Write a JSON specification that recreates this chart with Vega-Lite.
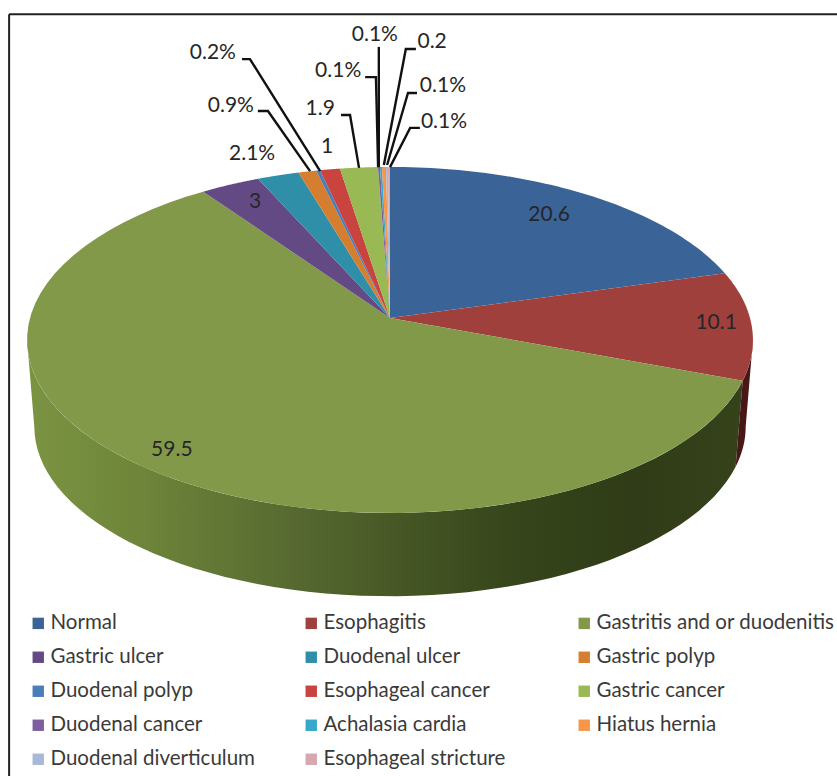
{
  "$schema": "https://vega.github.io/schema/vega-lite/v6.json",
  "width": 837,
  "height": 776,
  "autosize": "none",
  "padding": 0,
  "background": "white",
  "config": {"view": {"stroke": null}, "font": "Lato"},
  "datasets": {
    "slices": [
      {"seq": 1, "name": "Normal", "value": 20.6},
      {"seq": 2, "name": "Esophagitis", "value": 10.1},
      {"seq": 3, "name": "Gastritis and or duodenitis", "value": 59.5},
      {"seq": 4, "name": "Gastric ulcer", "value": 3},
      {"seq": 5, "name": "Duodenal ulcer", "value": 2.1},
      {"seq": 6, "name": "Gastric polyp", "value": 0.9},
      {"seq": 7, "name": "Duodenal polyp", "value": 0.2},
      {"seq": 8, "name": "Esophageal cancer", "value": 1},
      {"seq": 9, "name": "Gastric cancer", "value": 1.9},
      {"seq": 10, "name": "Duodenal cancer", "value": 0.1},
      {"seq": 11, "name": "Achalasia cardia", "value": 0.1},
      {"seq": 12, "name": "Hiatus hernia", "value": 0.2},
      {"seq": 13, "name": "Duodenal diverticulum", "value": 0.1},
      {"seq": 14, "name": "Esophageal stricture", "value": 0.1}
    ],
    "callouts": [
      {"text": "20.6", "x": 44.2, "y": 28.6},
      {"text": "10.1", "x": 90.6, "y": -1.4},
      {"text": "59.5", "x": -60.6, "y": -36.7},
      {"text": "3", "x": -37.5, "y": 32.2},
      {"text": "2.1%", "x": -38.3, "y": 45.6},
      {"text": "1", "x": -17.5, "y": 47.5},
      {"text": "1.9", "x": -19.4, "y": 58.1},
      {"text": "0.9%", "x": -44.2, "y": 58.9},
      {"text": "0.2%", "x": -49.2, "y": 73.6},
      {"text": "0.1%", "x": -14.4, "y": 68.6},
      {"text": "0.1%", "x": -4.2, "y": 78.6},
      {"text": "0.2", "x": 11.7, "y": 76.7},
      {"text": "0.1%", "x": 14.7, "y": 64.4},
      {"text": "0.1%", "x": 15, "y": 54.4}
    ],
    "leaders": [
      {"id": "a", "n": 1, "x": -41.1, "y": 71.9}, {"id": "a", "n": 2, "x": -38.9, "y": 71.9}, {"id": "a", "n": 3, "x": -19.4, "y": 40.8},
      {"id": "b", "n": 1, "x": -36.7, "y": 57.5}, {"id": "b", "n": 2, "x": -33.9, "y": 57.5}, {"id": "b", "n": 3, "x": -22.2, "y": 40.8},
      {"id": "c", "n": 1, "x": -13.6, "y": 56.4}, {"id": "c", "n": 2, "x": -11.1, "y": 56.4}, {"id": "c", "n": 3, "x": -8.6, "y": 41.7},
      {"id": "d", "n": 1, "x": -6.9, "y": 66.9}, {"id": "d", "n": 2, "x": -3.9, "y": 66.9}, {"id": "d", "n": 3, "x": -3.3, "y": 41.9},
      {"id": "e", "n": 1, "x": -3.1, "y": 75.3}, {"id": "e", "n": 2, "x": -3.1, "y": 41.9},
      {"id": "f", "n": 1, "x": 7.2, "y": 74.7}, {"id": "f", "n": 2, "x": 4.4, "y": 74.7}, {"id": "f", "n": 3, "x": -1.7, "y": 42.5},
      {"id": "g", "n": 1, "x": 7.5, "y": 62.5}, {"id": "g", "n": 2, "x": 5, "y": 62.5}, {"id": "g", "n": 3, "x": -0.8, "y": 42.5},
      {"id": "h", "n": 1, "x": 8.3, "y": 52.8}, {"id": "h", "n": 2, "x": 5.6, "y": 52.8}, {"id": "h", "n": 3, "x": 0, "y": 41.9}
    ],
    "frame": [
      {"x": -105.8, "y": 84.4, "x2": -105.8, "y2": -127.2},
      {"x": -105.8, "y": 84.4, "x2": 124.2, "y2": 84.4}
    ]
  },
  "layer": [
    {
      "data": {"name": "frame"},
      "mark": {"type": "rule", "color": "#222222", "strokeWidth": 2},
      "encoding": {
        "x": {"field": "x", "type": "quantitative", "scale": {"domain": [-108.33, 124.17], "nice": false, "zero": false}, "axis": null},
        "y": {"field": "y", "type": "quantitative", "scale": {"domain": [-127.22, 88.33], "nice": false, "zero": false}, "axis": null},
        "x2": {"field": "x2"},
        "y2": {"field": "y2"}
      }
    },
    {
      "data": {"name": "slices"},
      "transform": [
        {"window": [{"op": "sum", "field": "value", "as": "cum"}], "sort": [{"field": "seq", "order": "ascending"}]},
        {"joinaggregate": [{"op": "sum", "field": "value", "as": "total"}]},
        {"calculate": "max(360 * (datum.cum - datum.value) / datum.total, 97.3)", "as": "from"},
        {"calculate": "min(360 * datum.cum / datum.total, 262.7)", "as": "to"},
        {"filter": "datum.to > datum.from && datum.name === 'Gastritis and or duodenitis'"},
        {"calculate": "sequence(0, 122)", "as": "i"},
        {"flatten": ["i"]},
        {"calculate": "(datum.i <= 60 ? datum.i : 121 - datum.i) / 60", "as": "t"},
        {"calculate": "(datum.from + datum.t * (datum.to - datum.from)) * PI / 180", "as": "a"},
        {"calculate": "100 * sin(datum.a) / (1 + 0.127 * cos(datum.a))", "as": "fx"},
        {"calculate": "47.28 * cos(datum.a) / (1 + 0.127 * cos(datum.a))", "as": "fy"},
        {"calculate": "datum.i <= 60 ? datum.fx : 0.98 * datum.fx", "as": "px"},
        {"calculate": "datum.i <= 60 ? datum.fy : 0.98 * datum.fy - 24.2", "as": "py"}
      ],
      "mark": {
        "type": "line",
        "filled": true,
        "interpolate": "linear",
        "color": {
          "gradient": "linear",
          "x1": 0, "y1": 0, "x2": 1, "y2": 0,
          "stops": [
            {"offset": 0, "color": "#7b9442"},
            {"offset": 0.15, "color": "#6f863a"},
            {"offset": 0.38, "color": "#566830"},
            {"offset": 0.52, "color": "#465725"},
            {"offset": 0.68, "color": "#36451b"},
            {"offset": 0.85, "color": "#2f3c17"},
            {"offset": 1, "color": "#35421a"}
          ]
        }
      },
      "encoding": {
        "x": {"field": "px", "type": "quantitative"},
        "y": {"field": "py", "type": "quantitative"},
        "order": {"field": "i", "type": "quantitative"}
      }
    },
    {
      "data": {"name": "slices"},
      "transform": [
        {"window": [{"op": "sum", "field": "value", "as": "cum"}], "sort": [{"field": "seq", "order": "ascending"}]},
        {"joinaggregate": [{"op": "sum", "field": "value", "as": "total"}]},
        {"calculate": "max(360 * (datum.cum - datum.value) / datum.total, 97.3)", "as": "from"},
        {"calculate": "min(360 * datum.cum / datum.total, 262.7)", "as": "to"},
        {"filter": "datum.to > datum.from && datum.name === 'Esophagitis'"},
        {"calculate": "sequence(0, 122)", "as": "i"},
        {"flatten": ["i"]},
        {"calculate": "(datum.i <= 60 ? datum.i : 121 - datum.i) / 60", "as": "t"},
        {"calculate": "(datum.from + datum.t * (datum.to - datum.from)) * PI / 180", "as": "a"},
        {"calculate": "100 * sin(datum.a) / (1 + 0.127 * cos(datum.a))", "as": "fx"},
        {"calculate": "47.28 * cos(datum.a) / (1 + 0.127 * cos(datum.a))", "as": "fy"},
        {"calculate": "datum.i <= 60 ? datum.fx : 0.98 * datum.fx", "as": "px"},
        {"calculate": "datum.i <= 60 ? datum.fy : 0.98 * datum.fy - 24.2", "as": "py"}
      ],
      "mark": {"type": "line", "filled": true, "color": "#4a1717"},
      "encoding": {
        "x": {"field": "px", "type": "quantitative"},
        "y": {"field": "py", "type": "quantitative"},
        "order": {"field": "i", "type": "quantitative"}
      }
    },
    {
      "data": {"name": "slices"},
      "transform": [
        {"window": [{"op": "sum", "field": "value", "as": "cum"}], "sort": [{"field": "seq", "order": "ascending"}]},
        {"joinaggregate": [{"op": "sum", "field": "value", "as": "total"}]},
        {"calculate": "sequence(-1, 61)", "as": "i"},
        {"flatten": ["i"]},
        {"calculate": "2 * PI * (datum.cum - datum.value + datum.value * datum.i / 60) / datum.total", "as": "a"},
        {"calculate": "datum.i < 0 ? 0 : 100 * sin(datum.a) / (1 + 0.127 * cos(datum.a))", "as": "px"},
        {"calculate": "datum.i < 0 ? 0 : 47.28 * cos(datum.a) / (1 + 0.127 * cos(datum.a))", "as": "py"}
      ],
      "mark": {"type": "line", "filled": true, "interpolate": "linear"},
      "encoding": {
        "x": {"field": "px", "type": "quantitative"},
        "y": {"field": "py", "type": "quantitative"},
        "order": {"field": "i", "type": "quantitative"},
        "color": {
          "field": "name",
          "type": "nominal",
          "scale": {
            "domain": ["Normal", "Esophagitis", "Gastritis and or duodenitis", "Gastric ulcer", "Duodenal ulcer", "Gastric polyp", "Duodenal polyp", "Esophageal cancer", "Gastric cancer", "Duodenal cancer", "Achalasia cardia", "Hiatus hernia", "Duodenal diverticulum", "Esophageal stricture"],
            "range": ["#3a6398", "#a0403c", "#82994a", "#644a85", "#2f8ea8", "#d67e2f", "#4a7ebb", "#c9433f", "#98b954", "#7d5fa0", "#37a8c9", "#f79646", "#a9b8d6", "#d8a6ae"]
          },
          "legend": {
            "title": null,
            "orient": "none",
            "legendX": 28,
            "legendY": 613,
            "columns": 3,
            "direction": "horizontal",
            "gridAlign": "all",
            "columnPadding": 12,
            "rowPadding": 13,
            "symbolType": "square",
            "symbolSize": 130,
            "symbolStrokeWidth": 0,
            "labelFont": "Lato",
            "labelFontSize": 20.5,
            "labelColor": "#3a3a3a",
            "labelLimit": 400,
            "labelOffset": 2
          }
        }
      }
    },
    {
      "data": {"name": "leaders"},
      "mark": {"type": "line", "color": "#111111", "strokeWidth": 2.4},
      "encoding": {
        "x": {"field": "x", "type": "quantitative"},
        "y": {"field": "y", "type": "quantitative"},
        "detail": {"field": "id"},
        "order": {"field": "n", "type": "quantitative"}
      }
    },
    {
      "data": {"name": "callouts"},
      "mark": {"type": "text", "font": "Lato", "fontSize": 21, "color": "#262626", "align": "center", "baseline": "middle"},
      "encoding": {
        "x": {"field": "x", "type": "quantitative"},
        "y": {"field": "y", "type": "quantitative"},
        "text": {"field": "text"}
      }
    }
  ]
}
